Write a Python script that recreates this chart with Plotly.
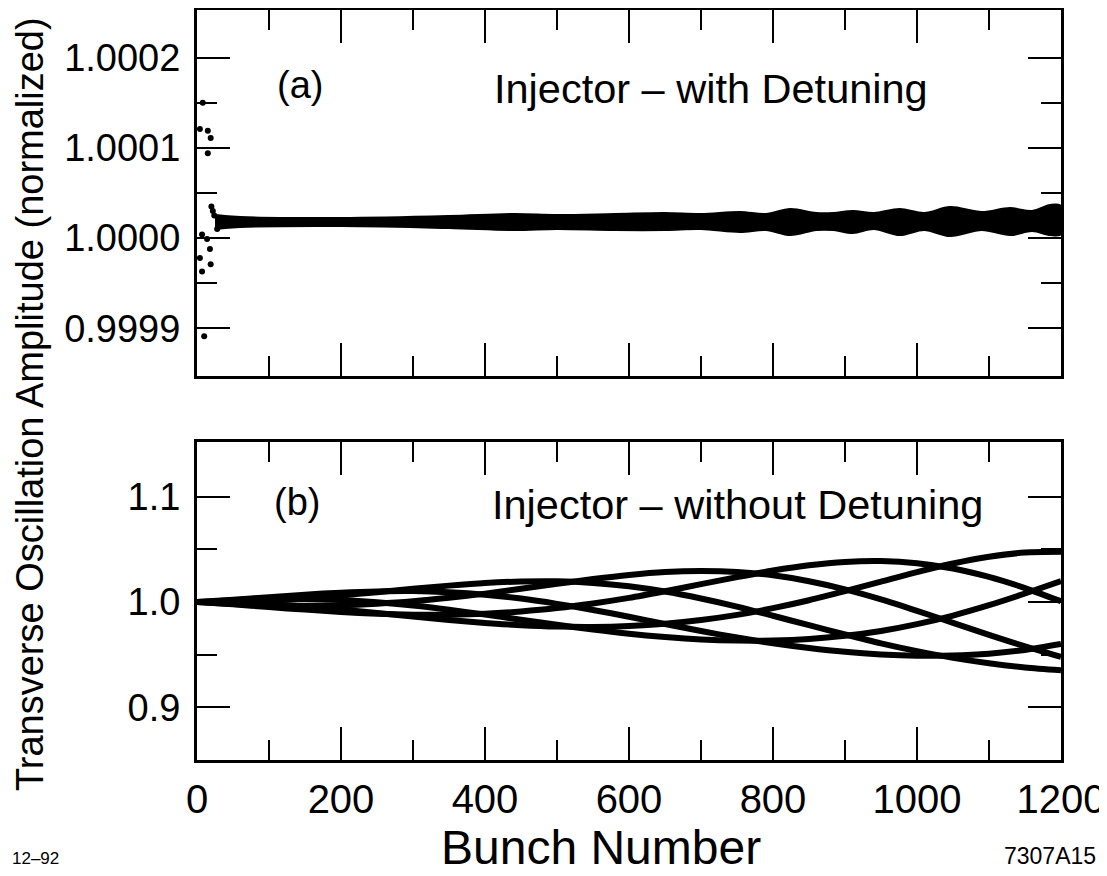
import plotly.graph_objects as go

# ---------------- data ----------------
# panel (a): early scattered bunches
early_bunch = [4, 4, 7, 7, 8, 10, 14, 15, 15, 18, 19, 19, 20, 22, 24, 28, 32]
early_amp = [1.000121, 0.999978, 1.000004, 0.999963, 1.000150, 0.999891, 0.999999,
             1.000119, 1.000094, 0.999988, 1.000111, 0.999971, 1.000035, 1.000030,
             1.000025, 1.000010, 1.000022]

# panel (a): envelope of the dense band of bunches
band_bunch = [25, 60, 200, 350, 440, 500, 580, 650, 700, 754, 790, 824, 860, 884,
              911, 940, 976, 1010, 1046, 1090, 1129, 1160, 1185, 1200]
band_upper = [1.0000256, 1.0000233, 1.0000222, 1.0000244, 1.0000267, 1.0000256,
              1.0000267, 1.0000278, 1.0000267, 1.0000289, 1.0000267, 1.0000322,
              1.0000278, 1.0000278, 1.0000300, 1.0000278, 1.0000322, 1.0000278,
              1.0000344, 1.0000289, 1.0000333, 1.0000300, 1.0000367, 1.0000356]
band_lower = [1.0000100, 1.0000122, 1.0000133, 1.0000111, 1.0000089, 1.0000100,
              1.0000089, 1.0000089, 1.0000100, 1.0000067, 1.0000089, 1.0000033,
              1.0000089, 1.0000089, 1.0000056, 1.0000100, 1.0000033, 1.0000089,
              1.0000022, 1.0000089, 1.0000033, 1.0000078, 1.0000033, 1.0000044]

# panel (b): traced amplitude curves (values read every 50 bunches)
curve_bunch = [0, 50, 100, 150, 200, 250, 300, 350, 400, 450, 500, 550, 600,
               650, 700, 750, 800, 850, 900, 950, 1000, 1050, 1100, 1150, 1200]
curve_1 = [1.0, 0.9996, 0.9981, 0.9959, 0.9929, 0.9896, 0.9862, 0.9829, 0.9801, 0.9780,
           0.9767, 0.9764, 0.9773, 0.9794, 0.9829, 0.9878, 0.9942, 1.0017, 1.0103,
           1.0194, 1.0285, 1.0366, 1.0430, 1.0470, 1.0477]
curve_2 = [1.0, 0.9978, 0.9952, 0.9928, 0.9906, 0.9889, 0.9880, 0.9880, 0.9889, 0.9911,
           0.9943, 0.9987, 1.0040, 1.0103, 1.0170, 1.0237, 1.0299, 1.0349, 1.0381,
           1.0389, 1.0369, 1.0319, 1.0239, 1.0133, 1.0007]
curve_3 = [1.0, 0.9981, 0.9969, 0.9965, 0.9969, 0.9984, 1.0007, 1.0040, 1.0080, 1.0126,
           1.0173, 1.0218, 1.0257, 1.0285, 1.0295, 1.0286, 1.0254, 1.0198, 1.0121,
           1.0026, 0.9917, 0.9803, 0.9688, 0.9579, 0.9480]
curve_4 = [1.0, 1.0004, 1.0016, 1.0036, 1.0063, 1.0094, 1.0126, 1.0156, 1.0181, 1.0195,
           1.0197, 1.0182, 1.0150, 1.0100, 1.0034, 0.9957, 0.9870, 0.9780, 0.9692,
           0.9608, 0.9534, 0.9470, 0.9419, 0.9379, 0.9353]
curve_5 = [1.0, 1.0022, 1.0046, 1.0070, 1.0089, 1.0101, 1.0104, 1.0093, 1.0070, 1.0033,
           0.9983, 0.9925, 0.9860, 0.9792, 0.9725, 0.9663, 0.9608, 0.9563, 0.9527,
           0.9503, 0.9491, 0.9493, 0.9510, 0.9545, 0.9601]
curve_6 = [1.0, 1.0018, 1.0029, 1.0029, 1.0019, 0.9998, 0.9967, 0.9927, 0.9881, 0.9832,
           0.9784, 0.9739, 0.9699, 0.9668, 0.9645, 0.9634, 0.9635, 0.9649, 0.9679,
           0.9725, 0.9790, 0.9872, 0.9970, 1.0081, 1.0198]
curves = [curve_1, curve_2, curve_3, curve_4, curve_5, curve_6]

x_major = [0, 200, 400, 600, 800, 1000, 1200]
x_labels = ["0", "200", "400", "600", "800", "1000", "1200"]
ya_ticks = [0.9999, 1.0000, 1.0001, 1.0002]
ya_labels = ["0.9999", "1.0000", "1.0001", "1.0002"]
yb_ticks = [0.9, 1.0, 1.1]
yb_labels = ["0.9", "1.0", "1.1"]

# ---------------- figure ----------------
# the page adds an 8 px body margin, so the figure is laid out 8 px smaller
OFF = 8
W, H = 1107 - OFF, 876 - OFF
FONT = "Liberation Sans, Arial, sans-serif"

fig = go.Figure()

band_x = band_bunch + band_bunch[::-1]
band_y = band_upper + band_lower[::-1]
fig.add_trace(go.Scatter(x=band_x, y=band_y, mode="lines", fill="toself",
                         fillcolor="black",
                         line=dict(color="black", width=2, shape="spline", smoothing=1.0),
                         xaxis="x", yaxis="y", showlegend=False, hoverinfo="skip"))
fig.add_trace(go.Scatter(x=early_bunch, y=early_amp, mode="markers",
                         marker=dict(color="black", size=6),
                         xaxis="x", yaxis="y", showlegend=False))

for c in curves:
    fig.add_trace(go.Scatter(x=curve_bunch, y=c, mode="lines",
                             line=dict(color="black", width=6, shape="spline", smoothing=0.8),
                             xaxis="x2", yaxis="y2", showlegend=False))

def px_x(X):
    return (X - OFF) / W

def px_y(Y):
    return (H - (Y - OFF)) / H

common_x = dict(range=[0, 1200], tickmode="array", tickvals=x_major,
                ticks="inside", ticklen=33, tickwidth=2, tickcolor="black",
                showline=True, linewidth=3, linecolor="black", mirror="ticks",
                showgrid=False, zeroline=False, automargin=False,
                minor=dict(tickmode="array", tickvals=[100, 300, 500, 700, 900, 1100],
                           ticks="inside", ticklen=20, tickwidth=2, tickcolor="black"))
common_y = dict(ticks="inside", ticklen=33, tickwidth=2, tickcolor="black",
                showline=True, linewidth=3, linecolor="black", mirror="ticks",
                showgrid=False, zeroline=False, tickmode="array", automargin=False,
                tickfont=dict(family=FONT, size=38, color="black"),
                ticklabelstandoff=6)

fig.update_layout(
    width=W, height=H, autosize=False,
    margin=dict(l=0, r=0, t=0, b=0, pad=0),
    paper_bgcolor="white", plot_bgcolor="white",
    xaxis=dict(domain=[px_x(197), px_x(1061)], anchor="y", showticklabels=False, **common_x),
    yaxis=dict(domain=[px_y(376), px_y(10)], anchor="x", range=[0.999847, 1.000253],
               tickvals=ya_ticks, ticktext=ya_labels,
               minor=dict(tickmode="array", tickvals=[0.99995, 1.00005, 1.00015],
                          ticks="inside", ticklen=20, tickwidth=2, tickcolor="black"),
               **common_y),
    xaxis2=dict(domain=[px_x(197), px_x(1061)], anchor="y2", showticklabels=True,
                ticktext=x_labels, tickfont=dict(family=FONT, size=40, color="black"),
                ticklabelstandoff=2, **common_x),
    yaxis2=dict(domain=[px_y(760), px_y(442)], anchor="x2", range=[0.85, 1.152],
                tickvals=yb_ticks, ticktext=yb_labels,
                minor=dict(tickmode="array", tickvals=[0.95, 1.05],
                           ticks="inside", ticklen=20, tickwidth=2, tickcolor="black"),
                **common_y),
    font=dict(family=FONT, color="black"),
)

ann = [
    dict(text="Transverse Oscillation Amplitude (normalized)", x=px_x(30), y=px_y(404),
         textangle=-90, font=dict(size=38)),
    dict(text="(a)", x=px_x(300), y=px_y(85), font=dict(size=38)),
    dict(text="Injector \u2013 with Detuning", x=px_x(711), y=px_y(88), font=dict(size=41.5)),
    dict(text="(b)", x=px_x(297), y=px_y(502), font=dict(size=38)),
    dict(text="Injector \u2013 without Detuning", x=px_x(737), y=px_y(505), font=dict(size=41.5)),
    dict(text="Bunch Number", x=px_x(601), y=px_y(847), font=dict(size=48)),
    dict(text="12\u201392", x=px_x(35), y=px_y(858), font=dict(size=17)),
    dict(text="7307A15", x=px_x(1050), y=px_y(856), font=dict(size=23)),
]
for a in ann:
    a.update(xref="paper", yref="paper", showarrow=False, xanchor="center", yanchor="middle")
    a["font"].update(family=FONT, color="black")
fig.update_layout(annotations=ann)

fig.write_html("out.html")
